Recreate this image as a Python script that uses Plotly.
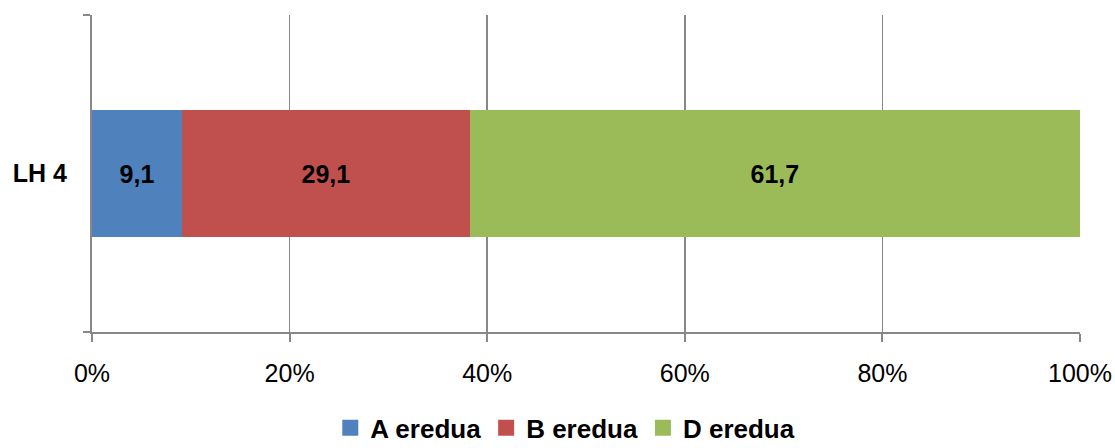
import plotly.graph_objects as go

categories = ["LH 4"]
series_names = ["A eredua", "B eredua", "D eredua"]
values_a = [9.1]
values_b = [29.1]
values_d = [61.7]
colors = ["#4F81BD", "#C0504D", "#9BBB59"]
tick_vals = [0, 20, 40, 60, 80, 100]
tick_text = ["0%", "20%", "40%", "60%", "80%", "100%"]

fig = go.Figure()
for name, vals, col in zip(series_names, [values_a, values_b, values_d], colors):
    fig.add_trace(go.Bar(
        y=categories, x=vals, name=name, orientation="h",
        marker=dict(color=col, line=dict(width=0)),
        text=[f"{v:.1f}".replace(".", ",") for v in vals],
        textposition="inside", insidetextanchor="middle",
        textfont=dict(family="Liberation Sans, Arial", size=25, color="black", weight="bold"),
        hoverinfo="skip", showlegend=False, legendgroup=name,
    ))
# legend entries with larger square swatches
for name, col in zip(series_names, colors):
    fig.add_trace(go.Scatter(
        x=[None], y=[None], mode="markers", name=name, legendgroup=name,
        marker=dict(symbol="square", size=16, color=col),
        showlegend=True, hoverinfo="skip",
    ))

fig.update_layout(
    barmode="stack", barnorm="percent", bargap=0.6,
    width=1115, height=448,
    margin=dict(l=92, r=35, t=15, b=116, autoexpand=False),
    paper_bgcolor="white", plot_bgcolor="white",
    font=dict(family="Liberation Sans, Arial", color="black"),
    showlegend=True,
    legend=dict(
        orientation="h", xref="container", yref="container",
        x=0.507, xanchor="center", y=0.045, yanchor="middle",
        font=dict(size=26, weight="bold", color="black"),
        itemsizing="trace", traceorder="normal",
        itemwidth=30,
    ),
    uniformtext=dict(minsize=8, mode="show"),
)
fig.update_xaxes(
    range=[0, 100], tickvals=tick_vals, ticktext=tick_text,
    showgrid=True, gridcolor="#888888", gridwidth=1.5,
    showline=True, linecolor="#888888", linewidth=2,
    ticks="outside", ticklen=8, tickcolor="#888888", tickwidth=2,
    tickfont=dict(size=25, color="black"), ticklabelstandoff=10,
    zeroline=False, fixedrange=True, automargin=False,
)
fig.update_yaxes(
    range=[-0.5, 0.5], showgrid=False,
    showline=True, linecolor="#888888", linewidth=2,
    ticks="outside", ticklen=7, tickcolor="#888888", tickwidth=2,
    tickson="boundaries",
    tickfont=dict(size=25, color="black", weight="bold"), ticklabelstandoff=18,
    zeroline=False, fixedrange=True, automargin=False,
)

fig.write_html(
    "out.html",
    config={"displayModeBar": False, "staticPlot": True},
    post_script="document.body.style.margin='0';document.body.style.overflow='hidden';",
)
